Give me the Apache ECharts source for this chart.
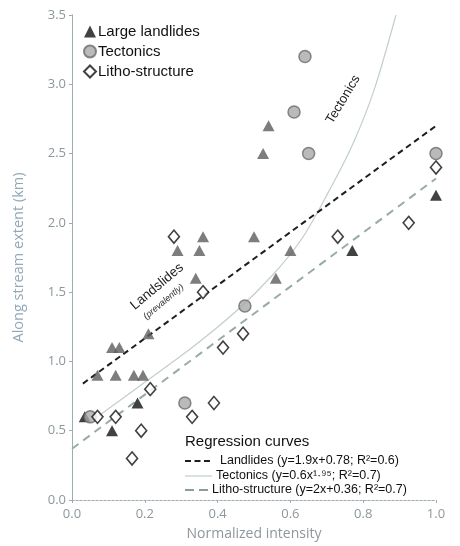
<!DOCTYPE html>
<html>
<head>
<meta charset="utf-8">
<script src="https://cdn.jsdelivr.net/npm/echarts@6/dist/echarts.min.js"></script>
<style>
html,body{margin:0;padding:0;background:#fff;}
#c{width:460px;height:546px;}
</style>
</head>
<body>
<div id="c"></div>
<script>
// ---- data ----
const xTicks = [0.0, 0.2, 0.4, 0.6, 0.8, 1.0];
const yTicks = [0.0, 0.5, 1.0, 1.5, 2.0, 2.5, 3.0, 3.5];

const landslidesGray = [[0.07,0.9],[0.12,0.9],[0.17,0.9],[0.195,0.9],[0.11,1.1],[0.13,1.1],[0.21,1.2],
  [0.29,1.8],[0.35,1.8],[0.36,1.9],[0.34,1.6],[0.54,2.7],[0.525,2.5],[0.50,1.9],[0.60,1.8],[0.56,1.6]];
const landslidesBlack = [[0.035,0.6],[0.11,0.5],[0.18,0.7],[0.77,1.8],[1.0,2.2]];
const tectonics = [[0.05,0.6],[0.31,0.7],[0.475,1.4],[0.61,2.8],[0.64,3.2],[0.65,2.5],[1.0,2.5]];
const litho = [[0.07,0.6],[0.12,0.6],[0.19,0.5],[0.165,0.3],[0.215,0.8],[0.33,0.6],[0.39,0.7],
  [0.28,1.9],[0.36,1.5],[0.415,1.1],[0.47,1.2],[0.73,1.9],[0.925,2.0],[1.0,2.4]];

const landslideFit = [[0.03,0.84],[1.0,2.70]];
const lithoFit = [[0.0,0.37],[1.0,2.32]];
const tectonicsFit = [[0.07,0.6],[0.2,0.85],[0.33,1.1],[0.45,1.36],[0.55,1.62],[0.63,1.88],
  [0.70,2.2],[0.77,2.56],[0.83,2.96],[0.89,3.5]];

const legendNames = ['Large landlides','Tectonics','Litho-structure'];
const fitLabels = ['Landlides (y=1.9x+0.78; R²=0.6)','Tectonics (y=0.6x¹·⁹⁵; R²=0.7)','Litho-structure (y=2x+0.36; R²=0.7)'];

// ---- chart ----
const chart = echarts.init(document.getElementById('c'));
const frame = {show:true, lineStyle:{color:'#9eacb4', width:1, type:[2,2]}};
const tickFont = {color:'#8e979c', fontFamily:'Open Sans', fontSize:13};

chart.setOption({
  animation:false,
  grid:{left:72, right:24, top:15, bottom:45},
  legend:{
    data:legendNames, orient:'vertical', left:78, top:19,
    itemWidth:12, itemHeight:12, itemGap:5,
    textStyle:{fontFamily:'Liberation Sans, Arial', fontSize:15, color:'#111', padding:[0,0,0,-3]}
  },
  xAxis:[{
    type:'value', min:0, max:1, interval:0.2,
    name:'Normalized intensity', nameLocation:'middle', nameGap:27,
    nameTextStyle:{color:'#8e979c', fontFamily:'Open Sans', fontSize:14},
    axisLine:frame, axisTick:{show:true, length:3, lineStyle:{color:'#9eacb4'}},
    axisLabel:Object.assign({formatter:v=>v.toFixed(1), margin:8}, tickFont),
    splitLine:{show:false}
  },{
    type:'value', position:'top', min:0, max:1, axisLine:frame,
    axisTick:{show:false}, axisLabel:{show:false}, splitLine:{show:false}
  }],
  yAxis:[{
    type:'value', min:0, max:3.5, interval:0.5,
    name:'Along stream extent (km)', nameLocation:'middle', nameGap:46,
    nameTextStyle:{color:'#93a9b8', fontFamily:'Open Sans', fontSize:14.5},
    axisLine:frame, axisTick:{show:true, length:3, lineStyle:{color:'#9eacb4'}},
    axisLabel:Object.assign({formatter:v=>v.toFixed(1), margin:6}, tickFont),
    splitLine:{show:false}
  },{
    type:'value', position:'right', min:0, max:3.5, axisLine:{show:true, lineStyle:{color:'#9eacb4', width:1}},
    axisTick:{show:false}, axisLabel:{show:false}, splitLine:{show:false}
  }],
  series:[
    {type:'line', data:lithoFit, symbol:'none', silent:true, z:1,
     lineStyle:{color:'#98aba7', width:2, type:[8,6]}},
    {type:'line', data:tectonicsFit, symbol:'none', smooth:0.3, silent:true, z:1,
     lineStyle:{color:'#c2cdd1', width:1.2}},
    {type:'line', data:landslideFit, symbol:'none', silent:true, z:1,
     lineStyle:{color:'#1e1e1e', width:2, type:[6,4]}},
    {name:'gray landslides', type:'scatter', data:landslidesGray, symbol:'triangle', symbolSize:[12,11], z:3,
     itemStyle:{color:'#5c5c5c'}},
    {name:legendNames[0], type:'scatter', data:landslidesBlack, symbol:'triangle', symbolSize:[12,11], z:3,
     itemStyle:{color:'#111'}},
    {name:legendNames[1], type:'scatter', data:tectonics, symbol:'circle', symbolSize:12, z:4,
     itemStyle:{color:'#a9a9a9', borderColor:'#6b6b6b', borderWidth:1.5}},
    {name:legendNames[2], type:'scatter', data:litho, symbol:'diamond', symbolSize:[11,13], z:5,
     itemStyle:{color:'#fff', borderColor:'#111', borderWidth:1.6}}
  ]
});

// annotations positioned through the axes
const p = (x,y)=>chart.convertToPixel({xAxisIndex:0,yAxisIndex:0},[x,y]);
const tecPos = p(0.745,2.89), lsPos = p(0.234,1.54), prevPos = p(0.252,1.43);
const lf = 'Liberation Sans, Arial';
const rowY = [461, 476, 490];
const sample = [
  {color:'#1e1e1e', width:2, dash:[6,3.5]},
  {color:'#c2cdd1', width:1.2, dash:null},
  {color:'#8c9c98', width:2, dash:[9,5]}
];
const g = [
  {type:'text', x:tecPos[0], y:tecPos[1], rotation:59*Math.PI/180, z:10,
   style:{text:'Tectonics', font:'13px '+lf, fill:'#222', align:'center', verticalAlign:'middle'}},
  {type:'text', x:lsPos[0], y:lsPos[1], rotation:40*Math.PI/180, z:10,
   style:{text:'Landslides', font:'13.5px '+lf, fill:'#222', align:'center', verticalAlign:'middle'}},
  {type:'text', x:prevPos[0], y:prevPos[1], rotation:40*Math.PI/180, z:10,
   style:{text:'(prevalently)', font:'italic 9px '+lf, fill:'#333', align:'center', verticalAlign:'middle'}},
  {type:'text', x:185, y:442, z:10,
   style:{text:'Regression curves', font:'15px '+lf, fill:'#111', verticalAlign:'middle'}}
];
fitLabels.forEach((t,i)=>{
  g.push({type:'line', z:10, shape:{x1:185, y1:rowY[i], x2:212, y2:rowY[i]},
    style:{stroke:sample[i].color, lineWidth:sample[i].width, lineDash:sample[i].dash}});
  g.push({type:'text', x:[220,216,212][i], y:rowY[i], z:10,
    style:{text:t, font:'12.5px '+lf, fill:'#111', verticalAlign:'middle'}});
});
chart.setOption({graphic:g});
</script>
</body>
</html>
